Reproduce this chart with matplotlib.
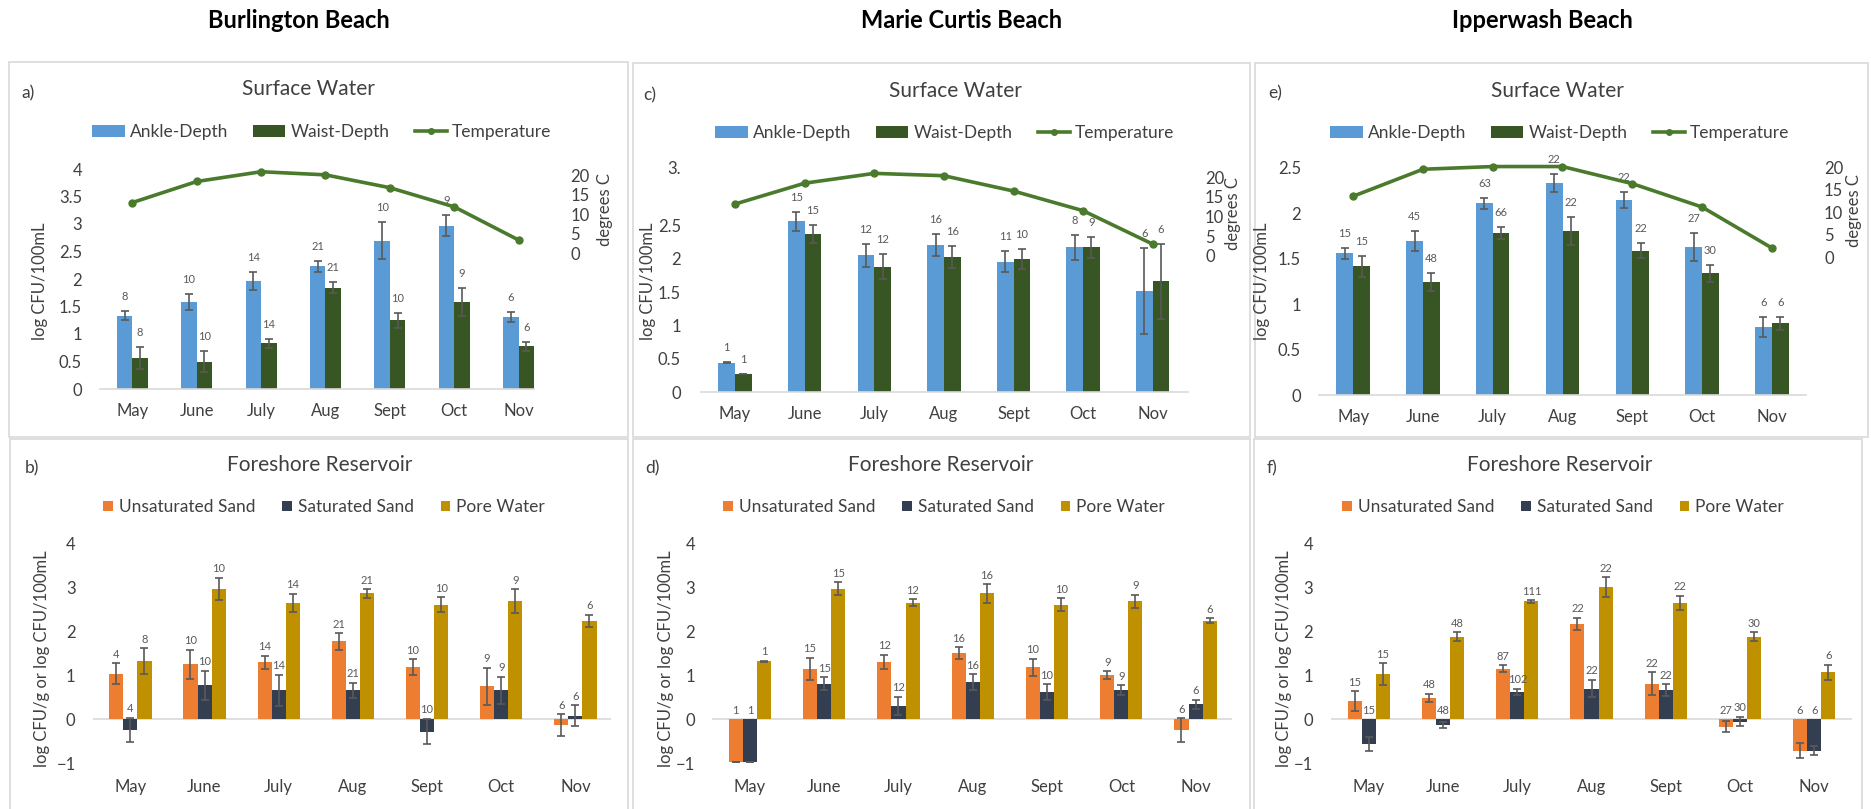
import matplotlib
matplotlib.use('Agg')
import matplotlib.pyplot as plt
from matplotlib.patches import Rectangle, Patch
from matplotlib.lines import Line2D
import numpy as np

plt.rcParams['font.family'] = ['Lato', 'DejaVu Sans']

W, H = 1871, 809
months = ['May', 'June', 'July', 'Aug', 'Sept', 'Oct', 'Nov']

# ---------------- Surface water (log CFU/100mL) ----------------
# Burlington
bur_ankle = [1.33, 1.58, 1.96, 2.23, 2.70, 2.97, 1.31]
bur_ankle_err = [0.08, 0.15, 0.16, 0.10, 0.33, 0.19, 0.09]
bur_waist = [0.56, 0.50, 0.83, 1.84, 1.25, 1.58, 0.78]
bur_waist_err = [0.20, 0.19, 0.08, 0.10, 0.14, 0.26, 0.08]
bur_ankle_n = [8, 10, 14, 21, 10, 9, 6]
bur_waist_n = [8, 10, 14, 21, 10, 9, 6]
bur_temp = [13.0, 18.4, 20.9, 20.1, 16.8, 11.9, 3.4]

# Marie Curtis
mc_ankle = [0.445, 2.565, 2.055, 2.205, 1.96, 2.175, 1.52]
mc_ankle_err = [0.005, 0.14, 0.175, 0.165, 0.16, 0.19, 0.64]
mc_waist = [0.275, 2.375, 1.885, 2.03, 2.005, 2.175, 1.665]
mc_waist_err = [0.005, 0.14, 0.185, 0.17, 0.15, 0.16, 0.56]
mc_ankle_n = [1, 15, 12, 16, 11, 8, 6]
mc_waist_n = [1, 15, 12, 16, 10, 9, 6]
mc_temp = [13.2, 18.5, 21.0, 20.4, 16.5, 11.5, 3.0]

# Ipperwash
ip_ankle = [1.56, 1.70, 2.11, 2.33, 2.15, 1.63, 0.75]
ip_ankle_err = [0.06, 0.11, 0.06, 0.10, 0.09, 0.15, 0.11]
ip_waist = [1.415, 1.24, 1.78, 1.81, 1.59, 1.34, 0.79]
ip_waist_err = [0.12, 0.10, 0.065, 0.155, 0.085, 0.095, 0.07]
ip_ankle_n = [15, 45, 63, 22, 22, 27, 6]
ip_waist_n = [15, 48, 66, 22, 22, 30, 6]
ip_temp = [13.6, 19.6, 20.2, 20.2, 16.4, 11.2, 2.1]

# ---------------- Foreshore reservoir ----------------
# Burlington
bur_unsat = [1.04, 1.25, 1.30, 1.77, 1.18, 0.75, -0.13]
bur_unsat_err = [0.24, 0.33, 0.15, 0.19, 0.18, 0.42, 0.24]
bur_sat = [-0.24, 0.77, 0.66, 0.66, -0.28, 0.66, 0.08]
bur_sat_err = [0.28, 0.33, 0.35, 0.17, 0.29, 0.31, 0.24]
bur_pore = [1.32, 2.97, 2.65, 2.86, 2.60, 2.68, 2.24]
bur_pore_err = [0.29, 0.25, 0.20, 0.10, 0.17, 0.27, 0.14]
bur_unsat_n = [4, 10, 14, 21, 10, 9, 6]
bur_sat_n = [4, 10, 14, 21, 10, 9, 6]
bur_pore_n = [8, 10, 14, 21, 10, 9, 6]

# Marie Curtis
mc_unsat = [-0.97, 1.15, 1.30, 1.51, 1.18, 1.00, -0.24]
mc_unsat_err = [0.0, 0.25, 0.165, 0.13, 0.20, 0.09, 0.27]
mc_sat = [-0.97, 0.81, 0.30, 0.85, 0.62, 0.66, 0.34]
mc_sat_err = [0.0, 0.15, 0.21, 0.18, 0.18, 0.11, 0.10]
mc_pore = [1.32, 2.97, 2.65, 2.86, 2.60, 2.68, 2.24]
mc_pore_err = [0.01, 0.14, 0.08, 0.21, 0.15, 0.15, 0.06]
mc_unsat_n = [1, 15, 12, 16, 10, 9, 6]
mc_sat_n = [1, 15, 12, 16, 10, 9, 6]
mc_pore_n = [1, 15, 12, 16, 10, 9, 6]

# Ipperwash
ip_unsat = [0.41, 0.49, 1.15, 2.17, 0.81, -0.165, -0.71]
ip_unsat_err = [0.23, 0.09, 0.08, 0.135, 0.26, 0.12, 0.18]
ip_sat = [-0.56, -0.13, 0.62, 0.70, 0.66, -0.05, -0.71]
ip_sat_err = [0.16, 0.07, 0.07, 0.20, 0.135, 0.11, 0.11]
ip_pore = [1.03, 1.88, 2.68, 3.01, 2.65, 1.88, 1.07]
ip_pore_err = [0.24, 0.10, 0.03, 0.22, 0.16, 0.10, 0.17]
ip_unsat_n = [15, 48, 87, 22, 22, 27, 6]
ip_sat_n = [15, 48, 102, 22, 22, 30, 6]
ip_pore_n = [15, 48, 111, 22, 22, 30, 6]

beaches = ['Burlington Beach', 'Marie Curtis Beach', 'Ipperwash Beach']

# ---------------- styling ----------------
C_ANKLE = '#5B9BD5'
C_WAIST = '#375623'
C_TEMP = '#4A7A2C'
C_UNSAT = '#ED7D31'
C_SAT = '#333F50'
C_PORE = '#BF9000'
C_ERR = '#595959'
C_TXT = '#404040'
C_AXIS = '#D9D9D9'

fig = plt.figure(figsize=(W / 100, H / 100), dpi=100)
fig.patch.set_facecolor('white')


def fx(x):
    return x / W


def fy(y):
    return 1 - y / H


def rect(l, r, t, b):
    return [l / W, 1 - b / H, (r - l) / W, (b - t) / H]


def ftext(x, y, s, **kw):
    fig.text(fx(x), fy(y), s, ha=kw.pop('ha', 'center'), va=kw.pop('va', 'center'), **kw)


# panel borders
for (l, r, t, b) in [(9, 628, 62, 437), (633, 1250, 63, 437), (1255, 1868, 63, 437),
                     (10, 628, 439, 812), (633, 1250, 439, 812), (1254, 1862, 439, 812)]:
    fig.add_artist(Rectangle((fx(l), fy(b)), (r - l) / W, (b - t) / H,
                             transform=fig.transFigure, fill=False,
                             edgecolor=C_AXIS, lw=1.2, clip_on=False))

# beach titles
for bx, name in zip([299, 962, 1542], beaches):
    ftext(bx, 21, name, fontsize=17, fontweight='bold', color='black')


def label_bars(ax, xs, vals, errs, ns, off):
    for x, v, e, n in zip(xs, vals, errs, ns):
        top = max(v + e, 0)
        ax.annotate(str(n), (x, top), xytext=(0, off), textcoords='offset points',
                    ha='center', va='bottom', fontsize=8, color=C_ERR)


def surface_panel(px, xlim, ylim, yticks, yticklabels, tlim, ankle, ae, waist, we,
                  an, wn, temp, lpad, rpad, ylab_x, deg_x, deg_y, letter, letter_xy,
                  title_xy, leg_xy):
    ax = fig.add_axes(rect(*px))
    x = np.arange(len(months))
    w = 0.24
    ax.bar(x - w / 2, ankle, w, color=C_ANKLE, zorder=2)
    ax.bar(x + w / 2, waist, w, color=C_WAIST, zorder=2)
    ax.errorbar(x - w / 2, ankle, yerr=ae, fmt='none', ecolor=C_ERR, elinewidth=1.2,
                capsize=3, capthick=1.2, zorder=3)
    ax.errorbar(x + w / 2, waist, yerr=we, fmt='none', ecolor=C_ERR, elinewidth=1.2,
                capsize=3, capthick=1.2, zorder=3)
    label_bars(ax, x - w / 2, ankle, ae, an, 6.5)
    label_bars(ax, x + w / 2, waist, we, wn, 6.5)
    ax.set_xlim(*xlim)
    ax.set_ylim(*ylim)
    ax.set_xticks(x)
    ax.set_xticklabels(months)
    ax.set_yticks(yticks)
    ax.set_yticklabels(yticklabels)
    ax.tick_params(axis='y', length=0, pad=lpad, labelsize=12, labelcolor=C_TXT)
    ax.tick_params(axis='x', length=0, pad=10, labelsize=12, labelcolor=C_TXT)
    for s in ['top', 'left', 'right']:
        ax.spines[s].set_visible(False)
    ax.spines['bottom'].set_color(C_AXIS)
    ax.spines['bottom'].set_linewidth(1.2)
    ax.patch.set_alpha(0)

    ax2 = ax.twinx()
    ax2.plot(x, temp, color=C_TEMP, lw=2.6, marker='o', ms=5, clip_on=False, zorder=4)
    ax2.set_ylim(*tlim)
    ax2.set_yticks([0, 5, 10, 15, 20])
    ax2.tick_params(axis='y', length=0, pad=rpad, labelsize=12, labelcolor=C_TXT)
    for s in ax2.spines.values():
        s.set_visible(False)

    ftext(ylab_x, 281, 'log CFU/100mL', rotation=90, fontsize=12, color=C_TXT)
    ftext(deg_x, deg_y, 'degrees C', rotation=90, fontsize=12, color=C_TXT)
    ftext(letter_xy[0], letter_xy[1], letter, fontsize=12.5, color=C_TXT)
    ftext(title_xy[0], title_xy[1], 'Surface Water', fontsize=15, color=C_TXT)
    handles = [Patch(facecolor=C_ANKLE), Patch(facecolor=C_WAIST),
               Line2D([], [], color=C_TEMP, lw=2.6, marker='o', ms=4)]
    fig.legend(handles, ['Ankle-Depth', 'Waist-Depth', 'Temperature'], loc='center',
               bbox_to_anchor=(fx(leg_xy[0]), fy(leg_xy[1])), ncol=3, frameon=False,
               fontsize=12.5, handlelength=1.85, handleheight=0.7, handletextpad=0.3,
               columnspacing=1.45, labelcolor=C_TXT, borderaxespad=0, borderpad=0)
    return ax


def reservoir_panel(px, xlim, unsat, ue, sat, se, pore, pe, un, sn, pn, lpad, ylab_x,
                    letter, letter_xy, title_xy, leg_xy):
    ax = fig.add_axes(rect(*px))
    x = np.arange(len(months))
    w = 0.19
    for off, vals, errs, ns, c in [(-w, unsat, ue, un, C_UNSAT), (0, sat, se, sn, C_SAT),
                                   (w, pore, pe, pn, C_PORE)]:
        ax.bar(x + off, vals, w, color=c, zorder=2)
        ax.errorbar(x + off, vals, yerr=errs, fmt='none', ecolor=C_ERR, elinewidth=1.2,
                    capsize=3, capthick=1.2, zorder=3)
        label_bars(ax, x + off, vals, errs, ns, 2.5)
    ax.axhline(0, color=C_AXIS, lw=1.2, zorder=1)
    ax.set_xlim(*xlim)
    ax.set_ylim(-1, 4)
    ax.set_xticks(x)
    ax.set_xticklabels(months)
    ax.set_yticks([-1, 0, 1, 2, 3, 4])
    ax.tick_params(axis='y', length=0, pad=lpad, labelsize=12, labelcolor=C_TXT)
    ax.tick_params(axis='x', length=0, pad=11.5, labelsize=12, labelcolor=C_TXT)
    for s in ax.spines.values():
        s.set_visible(False)
    ax.patch.set_alpha(0)
    ftext(ylab_x, 659, 'log CFU/g or log CFU/100mL', rotation=90, fontsize=12, color=C_TXT)
    ftext(letter_xy[0], letter_xy[1], letter, fontsize=12.5, color=C_TXT)
    ftext(title_xy[0], title_xy[1], 'Foreshore Reservoir', fontsize=15, color=C_TXT)
    handles = [Patch(facecolor=C_UNSAT), Patch(facecolor=C_SAT), Patch(facecolor=C_PORE)]
    fig.legend(handles, ['Unsaturated Sand', 'Saturated Sand', 'Pore Water'], loc='center',
               bbox_to_anchor=(fx(leg_xy[0]), fy(leg_xy[1])), ncol=3, frameon=False,
               fontsize=12.5, handlelength=0.55, handleheight=0.55, handletextpad=0.35,
               columnspacing=1.55, labelcolor=C_TXT, borderaxespad=0, borderpad=0)
    return ax


# a) Burlington surface
surface_panel((99.6, 534, 169, 389), (-0.51, 6.24), (0, 4),
              [0, 0.5, 1, 1.5, 2, 2.5, 3, 3.5, 4],
              ['0', '0.5', '1', '1.5', '2', '2.5', '3', '3.5', '4'],
              (-34.8, 21.6), bur_ankle, bur_ankle_err, bur_waist, bur_waist_err,
              bur_ankle_n, bur_waist_n, bur_temp, 12.7, 26, 40, 605, 210,
              'a)', (28, 93), (308.6, 89), (322, 132))

# c) Marie Curtis surface
surface_panel((701, 1187.5, 165.5, 392.3), (-0.49, 6.5), (0, 3.4),
              [0, 0.5, 1, 1.5, 2, 2.5, 3.375],
              ['0', '0.5', '1', '1.5', '2', '2.5', '3.'],
              (-34.7, 23.0), mc_ankle, mc_ankle_err, mc_waist, mc_waist_err,
              mc_ankle_n, mc_waist_n, mc_temp, 14.4, 12.6, 648, 1233, 214,
              'c)', (650, 95), (955, 91), (945, 133))

# e) Ipperwash surface
surface_panel((1319, 1806, 163.4, 395), (-0.49, 6.49), (0, 2.55),
              [0, 0.5, 1, 1.5, 2, 2.5],
              ['0', '0.5', '1', '1.5', '2', '2.5'],
              (-30.6, 20.9), ip_ankle, ip_ankle_err, ip_waist, ip_waist_err,
              ip_ankle_n, ip_waist_n, ip_temp, 13, 13, 1262, 1854, 211,
              'e)', (1275, 93), (1557, 91), (1560, 133))

# b) Burlington reservoir
reservoir_panel((93, 611, 543.3, 763.3), (-0.504, 6.48), bur_unsat, bur_unsat_err,
                bur_sat, bur_sat_err, bur_pore, bur_pore_err, bur_unsat_n, bur_sat_n,
                bur_pore_n, 12.6, 42, 'b)', (32, 468), (320, 465), (324, 507))

# d) Marie Curtis reservoir
reservoir_panel((712, 1232, 543.3, 763.3), (-0.51, 6.49), mc_unsat, mc_unsat_err,
                mc_sat, mc_sat_err, mc_pore, mc_pore_err, mc_unsat_n, mc_sat_n,
                mc_pore_n, 12.2, 666, 'd)', (652, 468), (941, 465), (944, 507))

# f) Ipperwash reservoir
reservoir_panel((1331, 1852, 543.3, 763.3), (-0.51, 6.51), ip_unsat, ip_unsat_err,
                ip_sat, ip_sat_err, ip_pore, ip_pore_err, ip_unsat_n, ip_sat_n,
                ip_pore_n, 13, 1284, 'f)', (1272, 468), (1560, 465), (1563, 507))

fig.savefig('out.png', dpi=100, facecolor='white')
